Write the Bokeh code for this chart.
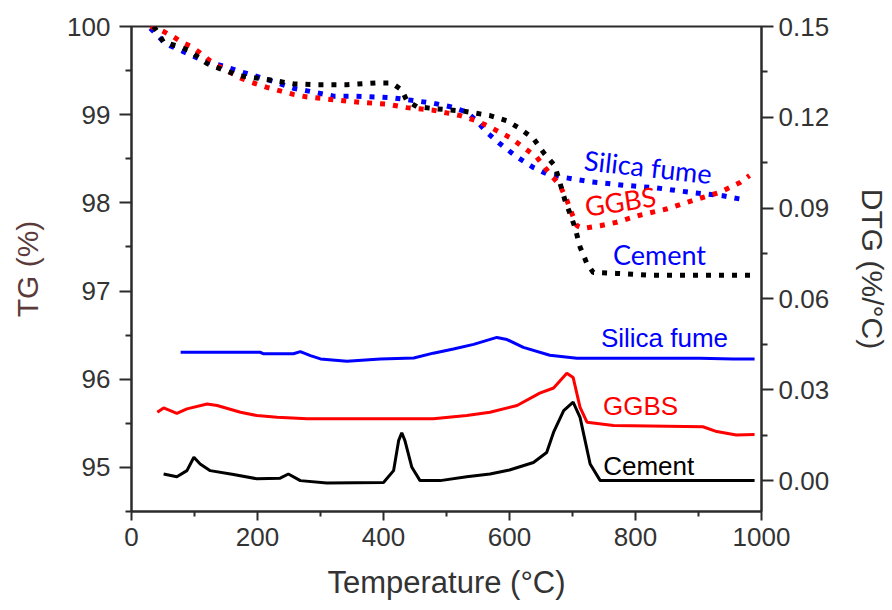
from bokeh.plotting import figure
from bokeh.models import Range1d, LinearAxis, FixedTicker, NumeralTickFormatter
from bokeh.embed import file_html
from bokeh.resources import INLINE
from bokeh.core.properties import value

# ---------------- data ----------------
# TG curves (left axis, %)
tg_cement_T = [35, 43, 51, 72, 91, 120, 133, 173, 215, 257, 289, 342, 390, 413, 429, 437, 453, 479,
               527, 569, 596, 617, 638, 654, 672, 680, 688, 696, 704, 712, 723, 733, 770, 823, 892, 966, 984]
tg_cement = [100.0, 99.92, 99.82, 99.78, 99.73, 99.58, 99.54, 99.44, 99.40, 99.35, 99.34, 99.34, 99.36, 99.36,
             99.28, 99.16, 99.09, 99.07, 99.04, 98.99, 98.93, 98.84, 98.73, 98.57, 98.42, 98.23, 98.03,
             97.88, 97.72, 97.50, 97.31, 97.21, 97.20, 97.18, 97.18, 97.18, 97.18]

tg_ggbs_T = [30, 49, 65, 80, 96, 109, 125, 138, 152, 168, 189, 215, 236, 257, 279, 321, 363, 405, 437, 479,
             522, 548, 569, 601, 622, 643, 664, 680, 691, 699, 707, 717, 744, 770, 807, 849, 892, 934, 966, 981]
tg_ggbs = [100.0, 99.95, 99.89, 99.82, 99.77, 99.70, 99.61, 99.55, 99.50, 99.43, 99.37, 99.31, 99.27, 99.23,
           99.20, 99.17, 99.14, 99.12, 99.08, 99.05, 98.99, 98.93, 98.86, 98.74, 98.63, 98.52, 98.33, 98.20,
           98.03, 97.88, 97.74, 97.71, 97.74, 97.78, 97.86, 97.93, 98.03, 98.12, 98.23, 98.31]

tg_sf_T = [30, 49, 62, 78, 96, 115, 130, 146, 168, 186, 215, 236, 257, 279, 300, 321, 352, 390, 416, 437,
           479, 506, 532, 548, 564, 585, 612, 638, 659, 685, 728, 781, 833, 886, 939, 976]
tg_sf = [99.98, 99.84, 99.78, 99.73, 99.67, 99.61, 99.58, 99.55, 99.50, 99.46, 99.40, 99.35, 99.30, 99.27,
         99.24, 99.21, 99.21, 99.20, 99.19, 99.17, 99.13, 99.09, 99.03, 98.93, 98.80, 98.67, 98.52, 98.40,
         98.33, 98.29, 98.24, 98.20, 98.17, 98.12, 98.08, 98.03]

# DTG curves (right axis, %/°C)
dtg_sf_T = [78, 204, 210, 257, 268, 284, 300, 342, 395, 448, 479, 511, 543, 580, 596, 622, 664, 707, 902, 955, 989]
dtg_sf = [0.0424, 0.0424, 0.0419, 0.0419, 0.0426, 0.0413, 0.0402, 0.0394, 0.0402, 0.0405, 0.0421, 0.0435,
          0.0450, 0.0473, 0.0466, 0.0440, 0.0414, 0.0404, 0.0404, 0.0402, 0.0402]

dtg_ggbs_T = [41, 51, 72, 88, 120, 136, 173, 199, 231, 279, 479, 532, 569, 612, 648, 670, 691, 701, 712, 723,
              765, 907, 929, 960, 989]
dtg_ggbs = [0.0226, 0.0240, 0.0222, 0.0237, 0.0253, 0.0248, 0.0226, 0.0215, 0.0209, 0.0204, 0.0204, 0.0215,
            0.0226, 0.0248, 0.0289, 0.0306, 0.0355, 0.0341, 0.0242, 0.0193, 0.0182, 0.0178, 0.0162, 0.0151, 0.0152]

dtg_cem_T = [51, 72, 88, 99, 109, 125, 162, 199, 236, 249, 268, 310, 400, 416, 424, 429, 434, 445, 458, 490,
             532, 569, 600, 638, 659, 670, 686, 701, 712, 720, 728, 744, 989]
dtg_cem = [0.0022, 0.0013, 0.0033, 0.0077, 0.0055, 0.0033, 0.0020, 0.0006, 0.0008, 0.0022, 0.0000, -0.0008,
           -0.0006, 0.0033, 0.0132, 0.0158, 0.0132, 0.0044, 0.0000, 0.0000, 0.0013, 0.0022, 0.0035, 0.0060,
           0.0093, 0.0160, 0.0231, 0.0259, 0.0209, 0.0132, 0.0055, 0.0000, 0.0000]

x_ticks = [0, 200, 400, 600, 800, 1000]
x_minor = [100, 300, 500, 700, 900]
tg_ticks = [95, 96, 97, 98, 99, 100]
tg_minor = [94.5, 95.5, 96.5, 97.5, 98.5, 99.5]
dtg_ticks = [0.0, 0.03, 0.06, 0.09, 0.12, 0.15]
dtg_minor = [0.015, 0.045, 0.075, 0.105, 0.135]

# annotation labels
upper_labels = ["Silica fume", "GGBS", "Cement"]
upper_x = [820, 776, 838]
upper_y = [98.41, 98.02, 97.41]
lower_labels = ["Silica fume", "GGBS", "Cement"]
lower_x = [846, 808, 821]
lower_y = [96.47, 95.70, 95.02]

# ---------------- figure ----------------
AX = "#2b2b2b"
TXT = "#333333"
FONT = "Liberation Sans"

p = figure(width=892, height=610, output_backend="svg", toolbar_location=None,
           x_range=Range1d(0, 1000), y_range=Range1d(94.5, 100),
           min_border_left=131, min_border_right=130, min_border_top=26, min_border_bottom=99,
           x_axis_location=None, y_axis_location=None)
p.extra_y_ranges = {"dtg": Range1d(-0.0102, 0.15)}
p.xgrid.visible = False
p.ygrid.visible = False
p.outline_line_color = AX
p.outline_line_width = 2
p.background_fill_color = "white"
p.border_fill_color = "white"


def style_axis(ax, ticks, minor):
    ax.ticker = FixedTicker(ticks=ticks, minor_ticks=minor)
    ax.axis_line_color = AX
    ax.axis_line_width = 2
    ax.major_tick_line_color = AX
    ax.major_tick_line_width = 2
    ax.minor_tick_line_color = AX
    ax.minor_tick_line_width = 2
    ax.major_tick_in = 0
    ax.major_tick_out = 12
    ax.minor_tick_in = 0
    ax.minor_tick_out = 6
    ax.major_label_text_font = FONT
    ax.major_label_text_font_size = "26px"
    ax.major_label_text_color = TXT
    ax.axis_label_text_font = FONT
    ax.axis_label_text_font_size = "30px"
    ax.axis_label_text_font_style = "normal"
    ax.axis_label_text_color = TXT


xa = LinearAxis(axis_label="Temperature (°C)")
style_axis(xa, x_ticks, x_minor)
xa.axis_label_text_font_size = "31px"
xa.major_tick_out = 9
xa.minor_tick_out = 5
xa.major_label_standoff = 7
xa.axis_label_standoff = 16
p.add_layout(xa, "below")

ya = LinearAxis(axis_label="TG (%)")
style_axis(ya, tg_ticks, tg_minor)
ya.major_label_standoff = 9
ya.axis_label_standoff = 20
ya.axis_label_text_color = "#5a3a3a"
p.add_layout(ya, "left")

ra = LinearAxis(y_range_name="dtg", axis_label="DTG (%/°C)")
style_axis(ra, dtg_ticks, dtg_minor)
ra.formatter = NumeralTickFormatter(format="0.00")
ra.major_tick_out = 12
ra.major_label_standoff = 5
ra.axis_label_standoff = 24
p.add_layout(ra, "right")

# TG dotted curves
dash = "5 8"
p.line(tg_sf_T, tg_sf, line_color="blue", line_width=5, line_dash=dash)
p.line(tg_ggbs_T, tg_ggbs, line_color="red", line_width=5, line_dash=dash)
p.line(tg_cement_T, tg_cement, line_color="black", line_width=5, line_dash=dash)

# DTG solid curves
p.line(dtg_sf_T, dtg_sf, line_color="blue", line_width=3, y_range_name="dtg")
p.line(dtg_ggbs_T, dtg_ggbs, line_color="red", line_width=3, y_range_name="dtg")
p.line(dtg_cem_T, dtg_cem, line_color="black", line_width=3, y_range_name="dtg")

# annotations
p.text(x=upper_x, y=upper_y, text=upper_labels, angle=[-0.11, 0.15, 0.0],
       text_color=["blue", "red", "blue"], text_font=value("Lato"), text_font_size="27px",
       text_align="center", text_baseline="middle")
p.text(x=lower_x, y=lower_y, text=lower_labels,
       text_color=["blue", "red", "black"], text_font=value(FONT), text_font_size="26px",
       text_align="center", text_baseline="middle")

open("out.html", "w").write(file_html(p, INLINE))
